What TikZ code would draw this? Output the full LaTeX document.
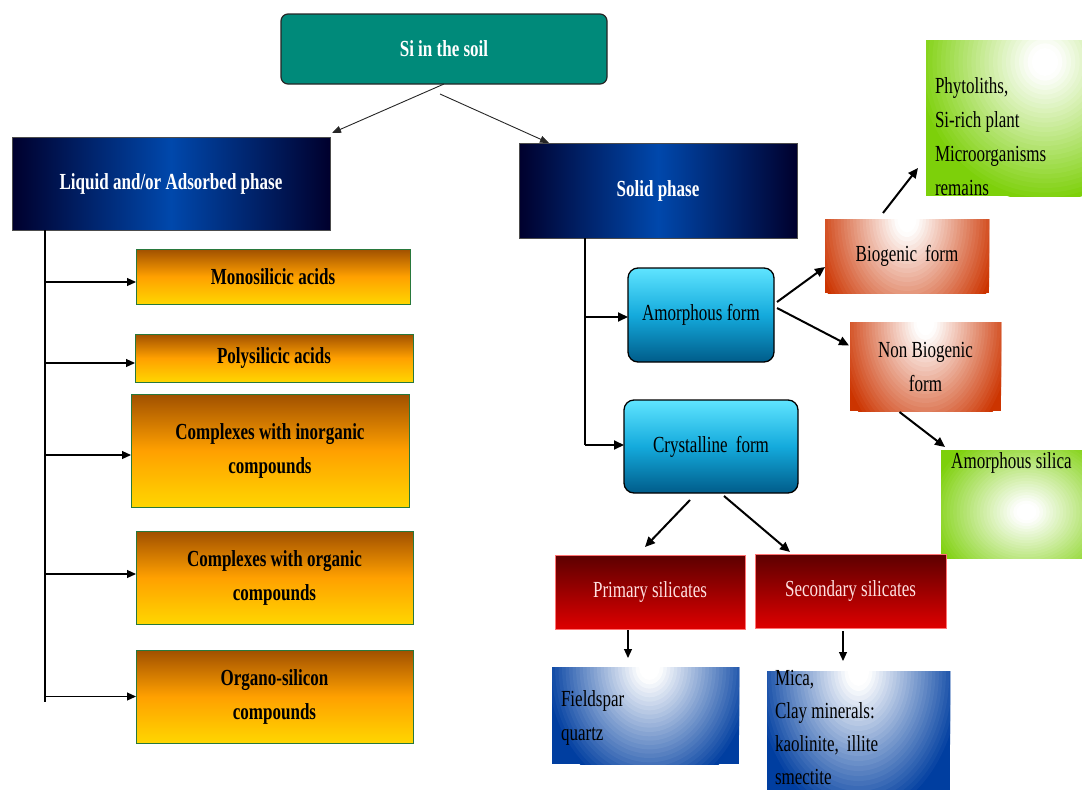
\documentclass[tikz,border=0pt]{standalone}
\usepackage{fontspec}
\setmainfont{Liberation Serif}[FakeStretch=0.74]
\usetikzlibrary{arrows.meta,calc}
\definecolor{teal1}{RGB}{0,138,122}
\definecolor{navyE}{RGB}{0,0,45}
\definecolor{navyC}{RGB}{0,72,172}
\definecolor{orT}{RGB}{160,80,0}
\definecolor{orM}{RGB}{255,160,0}
\definecolor{orBt}{RGB}{255,214,0}
\definecolor{orB}{RGB}{40,120,60}
\definecolor{cyT}{RGB}{95,228,255}
\definecolor{cyM}{RGB}{20,170,220}
\definecolor{cyB}{RGB}{0,92,138}
\definecolor{rdT}{RGB}{92,0,0}
\definecolor{rdB}{RGB}{222,0,0}
\definecolor{pinkT}{RGB}{255,225,225}
\definecolor{bioR}{RGB}{204,52,0}
\definecolor{greenC}{RGB}{125,208,10}
\definecolor{blueE}{RGB}{0,62,160}
% manual radial gradient: #1 colour, #2 centre, #3 x radius, #4 y radius
\newcommand\myspot[4]{%
  \foreach \k in {0,...,29}{%
    \pgfmathsetmacro\myf{1-\k/30}%
    \pgfmathsetmacro\myp{100*max(0,min(1,(\myf-0.12)/0.88))}%
    \fill[#1!\myp!white] #2 ellipse [x radius=\myf*#3, y radius=\myf*#4];%
  }%
}
\begin{document}
\begin{tikzpicture}[x=1pt,y=-1pt,
  base/.style={inner sep=0pt, outer sep=0pt, font=\fontsize{23}{34}\selectfont, align=center},
  sibox/.style={base, draw=black!85, line width=1.2pt, rounded corners=7pt, fill=teal1, text=white, font=\fontsize{23}{34}\selectfont\bfseries},
  navybox/.style={base, draw=black!70, line width=0.8pt, left color=navyE, right color=navyE, middle color=navyC, text=white, font=\fontsize{23}{34}\selectfont\bfseries},
  orbox/.style={base, draw=orB, line width=1pt, top color=orT, bottom color=orBt, middle color=orM, font=\fontsize{23}{34}\selectfont\bfseries},
  cybox/.style={base, draw=black, line width=1.3pt, rounded corners=10pt, top color=cyT, bottom color=cyB, middle color=cyM},
  rdbox/.style={base, draw=red!55, line width=0.6pt, top color=rdT, bottom color=rdB, text=pinkT},
  biobox/.style={base, fill=bioR, path picture={\myspot{bioR}{(path picture bounding box.north)}{#1}{135pt}}},
  grnbox/.style={base, fill=greenC},
  blbox/.style={base, fill=blueE},
  lbl/.style={base, align=left},
  arrT/.style={-{Triangle[length=9pt,width=7pt]}, line width=0.9pt, draw=black!85},
  arrL/.style={-{Triangle[length=9pt,width=8pt]}, line width=1.2pt},
  arrR/.style={-{Triangle[length=10pt,width=9pt]}, line width=2pt},
  trunk/.style={line width=1.3pt}
]
\useasboundingbox (0,0) rectangle (1082,790);
% top
\node[sibox, minimum width=326pt, minimum height=70pt] (si) at (444,49) {Si in the soil};
\node[navybox, minimum width=318pt, minimum height=93pt] (liq) at (171,183.5) {Liquid and/or Adsorbed phase};
\node[navybox, minimum width=278pt, minimum height=95pt] (sol) at (658,190.5) {Solid phase};
% left column
\node[orbox, minimum width=274pt, minimum height=55pt] (mono) at (273,276.5) {Monosilicic acids};
\node[orbox, minimum width=278pt, minimum height=48pt] (poly) at (274,358) {Polysilicic acids};
\node[orbox, minimum width=278pt, minimum height=113pt] (inorg) at (270,450.5) {Complexes with inorganic\\compounds};
\node[orbox, minimum width=277pt, minimum height=93pt] (org) at (274.5,577.5) {Complexes with organic\\compounds};
\node[orbox, minimum width=277pt, minimum height=93pt] (orgsi) at (274.5,696.5) {Organo-silicon\\compounds};
% right part
\node[cybox, minimum width=146pt, minimum height=94pt] (amor) at (701,315) {Amorphous form};
\node[cybox, minimum width=174pt, minimum height=93pt] (cryst) at (711,446.5) {Crystalline\, form};
\node[biobox=95pt, minimum width=164pt, minimum height=74pt] (bio) at (907,256) {Biogenic\, form};
\node[biobox=90pt, minimum width=151pt, minimum height=89pt] (nonbio) at (925.5,366.5) {Non Biogenic\\form};
\node[grnbox, minimum width=156pt, minimum height=156pt,
  path picture={\myspot{greenC}{($(path picture bounding box.north east)+(-37,22)$)}{130pt}{140pt}}] (phyto) at (1004,118) {};
\node[lbl, anchor=west] (phytoT) at (935,137) {Phytoliths,\\Si-rich plant\\Microorganisms\\remains};
\node[grnbox, minimum width=141pt, minimum height=108pt,
  path picture={\myspot{greenC}{($(path picture bounding box.center)+(15,8)$)}{100pt}{85pt}}] (amsil) at (1011.5,504) {};
\node[base, anchor=north] (amsilT) at (1011.5,453) {Amorphous silica};
\node[rdbox, minimum width=190pt, minimum height=74pt] (prim) at (650,592) {Primary silicates};
\node[rdbox, minimum width=191pt, minimum height=74pt] (sec) at (850.5,591) {Secondary silicates};
\node[blbox, minimum width=187pt, minimum height=97pt,
  path picture={\myspot{blueE}{($(path picture bounding box.north)+(4,0)$)}{105pt}{130pt}}] (feld) at (645.5,715.5) {};
\node[lbl, anchor=west] (feldT) at (561,718) {Fieldspar\\quartz};
\node[blbox, minimum width=183pt, minimum height=119pt,
  path picture={\myspot{blueE}{(path picture bounding box.north)}{105pt}{150pt}}] (mica) at (858.5,730.5) {};
\node[lbl, anchor=west, font=\fontsize{23}{33}\selectfont] (micaT) at (775,727) {Mica,\\Clay minerals:\\kaolinite,\, illite\\smectite};
% connectors from the root
\draw[arrT] (si.south) -- ($(liq.north east)+(2,-4)$);
\draw[arrT] ($(si.south)+(-4,10)$) -- ($(sol.north west)+(30,0)$);
% left trunk
\coordinate (ltr) at ($(liq.south west)+(33,0)$);
\draw[trunk] (ltr) -- ($(ltr |- orgsi.west)+(0,5)$);
\draw[arrL] ($(ltr |- mono.west)+(0,5.5)$) -- ($(mono.west)+(0,5.5)$);
\draw[arrL] ($(ltr |- poly.west)+(0,5)$) -- ($(poly.west)+(0,5)$);
\draw[arrL] ($(ltr |- inorg.west)+(0,4.5)$) -- ($(inorg.west)+(0,4.5)$);
\draw[arrL] ($(ltr |- org.west)+(0,-3.5)$) -- ($(org.west)+(0,-3.5)$);
\draw[arrL] (ltr |- orgsi.west) -- (orgsi.west);
% right trunk
\coordinate (rtr) at ($(sol.south west)+(66,0)$);
\draw[line width=1.6pt] (rtr) -- ($(rtr |- cryst.west)+(0,-1.5)$);
\draw[arrR] ($(rtr |- amor.west)+(0,2)$) -- ($(amor.west)+(0,2)$);
\draw[arrR] ($(rtr |- cryst.west)+(0,-1.5)$) -- ($(cryst.west)+(0,-1.5)$);
% amorphous branches
\draw[arrR] ($(amor.east)+(3,-13)$) -- ($(bio.west)+(0,11)$);
\draw[arrR] ($(amor.east)+(3,-7)$) -- ($(nonbio.west)+(-1,-21)$);
\draw[arrR] ($(bio.north)+(-24,-6)$) -- ($(phyto.south west)+(-8,-28)$);
\draw[arrR] ($(nonbio.south)+(-26,1)$) -- ($(amsil.north west)+(4,-3)$);
% crystalline branches
\draw[arrR] ($(cryst.south)+(-21,7)$) -- ($(prim.north)+(-5,-8)$);
\draw[arrR] ($(cryst.south)+(13,3)$) -- ($(sec.north west)+(35,-2)$);
\draw[arrL] ($(prim.south)+(-22,1)$) -- ($(feld.north)+(-17.5,-9)$);
\draw[arrL] ($(sec.south)+(-7.5,3)$) -- ($(mica.north)+(-15.5,-10)$);
\end{tikzpicture}
\end{document}
